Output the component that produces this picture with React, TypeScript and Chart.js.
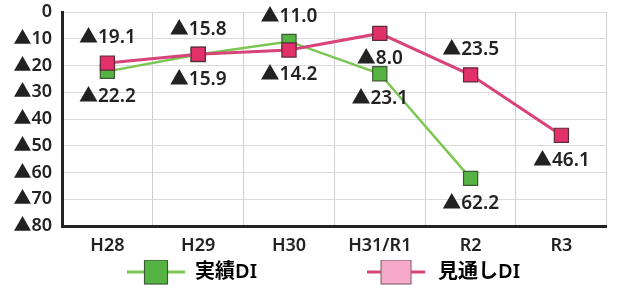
import React, { useEffect, useRef } from 'react';
import { Chart, registerables } from 'chart.js';

Chart.register(...registerables);

const categories = ['H28', 'H29', 'H30', 'H31/R1', 'R2', 'R3'];
const actualDI: (number | null)[] = [-22.2, -15.9, -11.0, -23.1, -62.2, null];
const forecastDI: (number | null)[] = [-19.1, -15.8, -14.2, -8.0, -23.5, -46.1];
const actualLabelSide = ['below', 'below', 'above', 'below', 'below', null];
const forecastLabelSide = ['above', 'above', 'below', 'below', 'above', 'below'];
const seriesNames = ['実績DI', '見通しDI'];
const yMin = -80;
const yMax = 0;
const yStep = 10;

const FONT = '"Noto Sans", "Noto Sans CJK JP", sans-serif';
const WEIGHT = '600';
const GREEN_LINE = '#7cc653';
const GREEN_FILL = '#55b343';
const GREEN_BORDER = '#3d5a34';
const PINK_LINE = '#d8437a';
const PINK_FILL = '#e2306a';
const PINK_BORDER = '#5e2a38';
const PINK_LEGEND_FILL = '#f6a9c8';

const LEG_W = 169;
const LEG_H = 28;

function makeLegendIcon(line: string, fill: string, border: string, boxW: number, boxH: number, endInset: number) {
  const c = document.createElement('canvas');
  c.width = LEG_W;
  c.height = LEG_H;
  const g = c.getContext('2d')!;
  const x1 = LEG_W - endInset;
  const x0 = x1 - 58;
  g.strokeStyle = line;
  g.lineWidth = 3;
  g.beginPath();
  g.moveTo(x0, LEG_H / 2);
  g.lineTo(x1, LEG_H / 2);
  g.stroke();
  const cx = (x0 + x1) / 2;
  g.fillStyle = fill;
  g.fillRect(cx - boxW / 2, LEG_H / 2 - boxH / 2, boxW, boxH);
  g.strokeStyle = border;
  g.lineWidth = 1.2;
  g.strokeRect(cx - boxW / 2, LEG_H / 2 - boxH / 2, boxW, boxH);
  return c;
}

const labelPlugin = {
  id: 'valueLabels',
  afterDatasetsDraw(chart: any) {
    const ctx = chart.ctx;
    ctx.save();
    ctx.font = `${WEIGHT} 19px ${FONT}`;
    ctx.fillStyle = '#222';
    ctx.textAlign = 'center';
    ctx.textBaseline = 'middle';
    chart.data.datasets.forEach((ds: any, i: number) => {
      const meta = chart.getDatasetMeta(i);
      const sides = ds.labelSides as (string | null)[];
      meta.data.forEach((pt: any, j: number) => {
        const v = ds.data[j];
        if (v == null || !sides[j]) return;
        const off = sides[j] === 'above' ? -25 : 25;
        ctx.fillText('▲' + Math.abs(v).toFixed(1), pt.x, pt.y + off);
      });
    });
    ctx.restore();
  },
};

export default function App() {
  const ref = useRef<HTMLCanvasElement>(null);
  useEffect(() => {
    const greenIcon = makeLegendIcon(GREEN_LINE, GREEN_FILL, GREEN_BORDER, 23, 24, 0);
    const pinkIcon = makeLegendIcon(PINK_LINE, PINK_LEGEND_FILL, '#8a6a72', 30, 24, 3);
    const chart = new Chart(ref.current!, {
      type: 'line',
      data: {
        labels: categories,
        datasets: [
          {
            label: seriesNames[0],
            data: actualDI,
            borderColor: GREEN_LINE,
            backgroundColor: GREEN_FILL,
            pointBackgroundColor: GREEN_FILL,
            pointBorderColor: GREEN_BORDER,
            pointStyle: 'rect',
            pointRadius: 10,
            pointBorderWidth: 1.2,
            borderWidth: 2.5,
            order: 1,
            labelSides: actualLabelSide,
          } as any,
          {
            label: seriesNames[1],
            data: forecastDI,
            borderColor: PINK_LINE,
            backgroundColor: PINK_FILL,
            pointBackgroundColor: PINK_FILL,
            pointBorderColor: PINK_BORDER,
            pointStyle: 'rect',
            pointRadius: 10,
            pointBorderWidth: 1.2,
            borderWidth: 3,
            order: 0,
            labelSides: forecastLabelSide,
          } as any,
        ],
      },
      options: {
        responsive: false,
        animation: false,
        devicePixelRatio: 1,
        layout: { padding: { top: 12, right: 11, left: 14, bottom: -4 } },
        plugins: {
          tooltip: { enabled: false },
          legend: {
            position: 'bottom',
            align: 'start',
            labels: {
              usePointStyle: true,
              pointStyleWidth: LEG_W,
              padding: 2,
              color: '#222',
              font: { size: 20, family: FONT, weight: WEIGHT as any },
              generateLabels: () => [
                { text: seriesNames[0], pointStyle: greenIcon, fillStyle: GREEN_FILL, strokeStyle: GREEN_BORDER, lineWidth: 0, hidden: false, datasetIndex: 0 } as any,
                { text: seriesNames[1], pointStyle: pinkIcon, fillStyle: PINK_LEGEND_FILL, strokeStyle: PINK_BORDER, lineWidth: 0, hidden: false, datasetIndex: 1 } as any,
              ],
            },
          },
        },
        scales: {
          x: {
            offset: true,
            grid: { offset: true, color: '#cfcfcf', lineWidth: 1, drawTicks: false },
            border: { color: '#222', width: 3 },
            ticks: { color: '#222', font: { size: 18, family: FONT, weight: WEIGHT as any }, padding: 9 },
            afterFit: (s: any) => { s.height = 34; },
          },
          y: {
            min: yMin,
            max: yMax,
            grid: { color: '#dadada', lineWidth: 1, drawTicks: false },
            border: { color: '#222', width: 3 },
            ticks: {
              stepSize: yStep,
              color: '#222',
              padding: 10,
              font: { size: 18, family: FONT, weight: WEIGHT as any, lineHeight: 0.2 },
              callback: (v: any) => (Number(v) === 0 ? '0' : '▲' + Math.abs(Number(v))),
            },
            afterFit: (s: any) => { s.width = 48; },
          },
        },
      },
      plugins: [labelPlugin],
    });
    return () => chart.destroy();
  }, []);
  return (
    <div style={{ position: 'absolute', left: 0, top: 0, width: 618, height: 288, background: '#fff' }}>
      <canvas ref={ref} width={618} height={288} />
    </div>
  );
}
